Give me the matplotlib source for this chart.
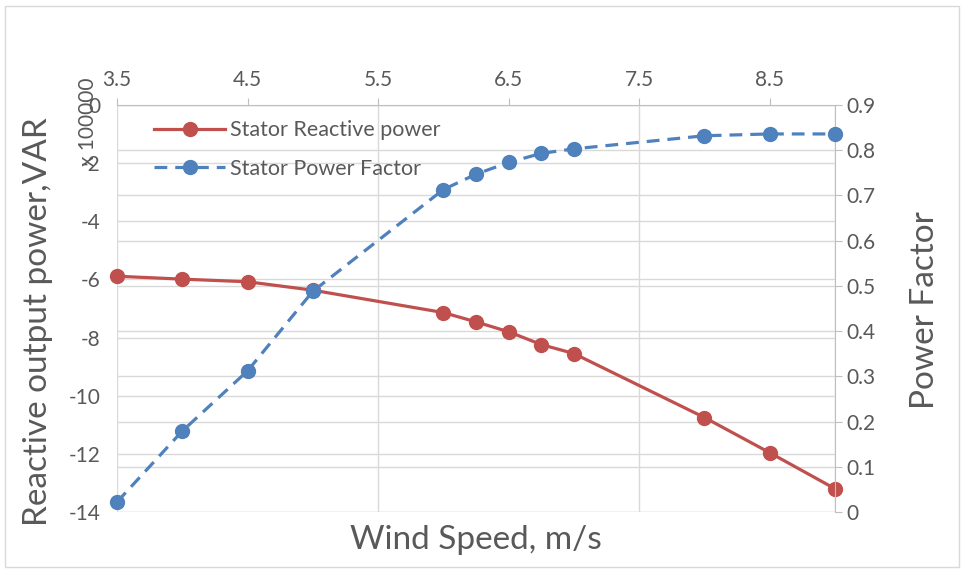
import numpy as np
import matplotlib.pyplot as plt
from matplotlib.patches import Rectangle

plt.rcParams['font.family'] = ['Lato', 'DejaVu Sans']

# wind speed, m/s
wind_speed = [3.5, 4.0, 4.5, 5.0, 6.0, 6.25, 6.5, 6.75, 7.0, 8.0, 8.5, 9.0]
# stator reactive power, x 100000 VAR
reactive_power = [-5.89, -5.99, -6.08, -6.37, -7.14, -7.46, -7.80, -8.24,
                  -8.55, -10.75, -11.96, -13.20]
# stator power factor
power_factor = [0.022, 0.179, 0.312, 0.488, 0.713, 0.747, 0.773, 0.793,
                0.803, 0.832, 0.836, 0.836]

left_ticks = np.arange(-14, 1, 2)
right_ticks = np.round(np.arange(0, 0.91, 0.1), 1)
top_ticks = [3.5, 4.5, 5.5, 6.5, 7.5, 8.5]
vgrid = [3.5, 5.5, 7.5, 9.0]

red = '#C0504D'
blue = '#4F81BD'
grid_col = '#D9D9D9'
text_col = '#595959'

W, H = 961, 569
fig = plt.figure(figsize=(W / 100, H / 100), dpi=100)
fig.patches.append(Rectangle((5 / W, 2 / H), 954 / W, 561 / H,
                             transform=fig.transFigure, fill=False,
                             edgecolor=grid_col, lw=1))

ax = fig.add_axes([117 / W, 1 - 512 / H, (835 - 117) / W, (512 - 105) / H])
ax2 = ax.twinx()

ax.set_xlim(3.5, 9.0)
ax.set_ylim(-14, 0)
ax2.set_ylim(0, 0.9)

# gridlines (all in bottom axes so both series sit on top)
for v in left_ticks:
    ax.axhline(v, color=grid_col, lw=1, zorder=0)
for v in right_ticks:
    ax.plot([0, 1], [v, v], transform=ax2.get_yaxis_transform(),
            color=grid_col, lw=1, zorder=0)
for v in vgrid:
    ax.axvline(v, color=grid_col, lw=1, zorder=0)

l1, = ax.plot(wind_speed, reactive_power, color=red, lw=2.3, marker='o',
              markersize=10, label='Stator Reactive power', zorder=3,
              clip_on=False)
l2, = ax2.plot(wind_speed, power_factor, color=blue, lw=2.3, ls=(0, (4, 2.5)),
               marker='o', markersize=10, label='Stator Power Factor', zorder=3,
               clip_on=False)

for a in (ax, ax2):
    for s in a.spines.values():
        s.set_visible(False)

ax.spines['top'].set_visible(True)
ax.spines['top'].set_color('#BFBFBF')
ax2.spines['right'].set_visible(True)
ax2.spines['right'].set_color('#BFBFBF')

ax.xaxis.tick_top()
ax.set_xticks(top_ticks)
ax.set_xticklabels([f'{t:g}' for t in top_ticks])
ax.tick_params(axis='x', colors='#BFBFBF', labelcolor=text_col, labelsize=15,
               length=5, pad=6)
ax.set_yticks(left_ticks)
ax.set_yticklabels([f'{t:g}' for t in left_ticks])
ax.tick_params(axis='y', length=0, labelcolor=text_col, labelsize=15, pad=12)
ax2.set_yticks(right_ticks)
ax2.set_yticklabels([f'{t:g}' for t in right_ticks])
ax2.tick_params(axis='y', colors='#BFBFBF', labelcolor=text_col, labelsize=15,
                length=5, pad=3)

fig.text(38 / W, 1 - 322 / H, 'Reactive output power,VAR', rotation=90,
         ha='center', va='center', fontsize=24, color=text_col)
fig.text(925 / W, 1 - 310 / H, 'Power Factor', rotation=90,
         ha='center', va='center', fontsize=24, color=text_col)
fig.text(476 / W, 1 - 540 / H, 'Wind Speed, m/s', ha='center', va='center',
         fontsize=24, color=text_col)
fig.text(88 / W, 1 - 122 / H, 'x 100000', rotation=90, ha='center',
         va='center', fontsize=15, color=text_col)

leg = ax2.legend(handles=[l1, l2], loc='upper left',
                 bbox_to_anchor=(0.025, 1.01), frameon=False, fontsize=15.5,
                 handlelength=3.3, labelspacing=0.85, handletextpad=0.2,
                 labelcolor=text_col)

fig.savefig('out.png', dpi=100)
